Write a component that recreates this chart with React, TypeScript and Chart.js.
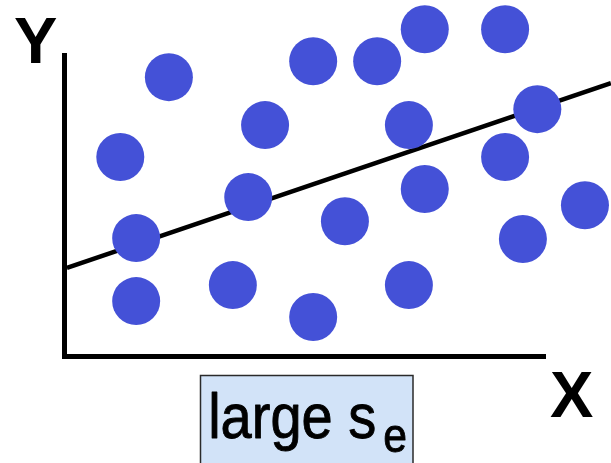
import React, { useEffect, useRef } from "react";
import { Chart, registerables } from "chart.js";

Chart.register(...registerables);

// Scatter points
const pointX = [1.16, 2.17, 1.49, 1.49, 3.5, 3.82, 4.17, 5.17, 5.17, 5.83, 6.5, 7.16, 7.49, 7.49, 7.16, 9.16, 9.16, 9.83, 9.53, 10.82];
const pointY = [6.62, 9.27, 3.93, 1.84, 2.37, 5.29, 7.68, 9.8, 1.31, 4.49, 9.8, 7.68, 10.86, 5.56, 2.37, 10.86, 6.62, 8.21, 3.9, 5.02];

// Regression line end points
const lineX = [0.05, 11.36];
const lineY = [2.94, 9.07];

// Labels
const yAxisLabel = "Y";
const xAxisLabel = "X";
const boxLabel = "large s";
const boxSubscript = "e";

const annotations = {
  id: "annotations",
  afterDraw(chart: any) {
    const ctx: CanvasRenderingContext2D = chart.ctx;
    ctx.save();
    ctx.textAlign = "left";
    ctx.textBaseline = "alphabetic";
    ctx.fillStyle = "#000";

    // Axis labels
    ctx.font = 'bold 65px "Liberation Sans", Arial, sans-serif';
    const mY = ctx.measureText(yAxisLabel);
    ctx.fillText(yAxisLabel, 15 + mY.actualBoundingBoxLeft, 62.7);
    const mX = ctx.measureText(xAxisLabel);
    ctx.fillText(xAxisLabel, 550 + mX.actualBoundingBoxLeft, 417);

    // Box
    ctx.fillStyle = "#D2E3F8";
    ctx.fillRect(200.5, 375.5, 212.5, 100);
    ctx.strokeStyle = "#2a2a2a";
    ctx.lineWidth = 1.5;
    ctx.strokeRect(200.5, 375.5, 212.5, 100);

    // Box text (condensed)
    ctx.fillStyle = "#000";
    ctx.strokeStyle = "#000";
    ctx.lineWidth = 0.9;
    ctx.lineJoin = "round";
    ctx.font = '63px "Liberation Sans Narrow", "Liberation Sans", Arial, sans-serif';
    const m = ctx.measureText(boxLabel);
    const ink = m.actualBoundingBoxLeft + m.actualBoundingBoxRight;
    const sx = (375 - 211.7) / ink;
    ctx.save();
    ctx.translate(211.7, 438);
    ctx.scale(sx, 1);
    ctx.fillText(boxLabel, m.actualBoundingBoxLeft, 0);
    ctx.strokeText(boxLabel, m.actualBoundingBoxLeft, 0);
    ctx.restore();

    ctx.font = '48px "Liberation Sans Narrow", "Liberation Sans", Arial, sans-serif';
    const ms = ctx.measureText(boxSubscript);
    ctx.save();
    ctx.translate(385, 452);
    ctx.scale(sx, 1);
    ctx.fillText(boxSubscript, ms.actualBoundingBoxLeft, 0);
    ctx.strokeText(boxSubscript, ms.actualBoundingBoxLeft, 0);
    ctx.restore();

    ctx.restore();
  },
};

export default function App() {
  const canvasRef = useRef<HTMLCanvasElement | null>(null);

  useEffect(() => {
    if (!canvasRef.current) return;
    const points = pointX.map((x, i) => ({ x, y: pointY[i] }));
    const line = lineX.map((x, i) => ({ x, y: lineY[i] }));
    const axisCommon = {
      type: "linear" as const,
      display: true,
      grid: { display: false, drawTicks: false },
      ticks: { display: false },
      border: { display: true, width: 5, color: "#000" },
    };
    const chart = new Chart(canvasRef.current, {
      type: "scatter",
      data: {
        datasets: [
          {
            data: points,
            backgroundColor: "#4451D7",
            // transparent wide border so points outside the axis box are still drawn
            borderColor: "rgba(0,0,0,0)",
            borderWidth: 30,
            pointRadius: 24,
            pointHoverRadius: 24,
            clip: false,
          } as any,
          {
            data: line,
            showLine: true,
            borderColor: "#000",
            borderWidth: 4.6,
            pointRadius: 0,
            pointHoverRadius: 0,
            fill: false,
            clip: false,
          } as any,
        ],
      },
      options: {
        responsive: false,
        animation: false,
        events: [],
        layout: { padding: { left: 64.5, top: 55.2, right: 65.5, bottom: 106.5 } },
        plugins: { legend: { display: false }, tooltip: { enabled: false } },
        scales: {
          x: {
            ...axisCommon,
            min: 0,
            max: 10,
            afterFit: (s: any) => {
              s.height = 0;
            },
          },
          y: {
            ...axisCommon,
            min: 0,
            max: 10,
            afterFit: (s: any) => {
              s.width = 0;
            },
          },
        },
      } as any,
      plugins: [annotations],
    });
    return () => chart.destroy();
  }, []);

  return (
    <div style={{ position: "fixed", left: 0, top: 0, width: 611, height: 463, background: "#fff" }}>
      <canvas ref={canvasRef} width={611} height={463} style={{ display: "block", width: 611, height: 463 }} />
    </div>
  );
}
